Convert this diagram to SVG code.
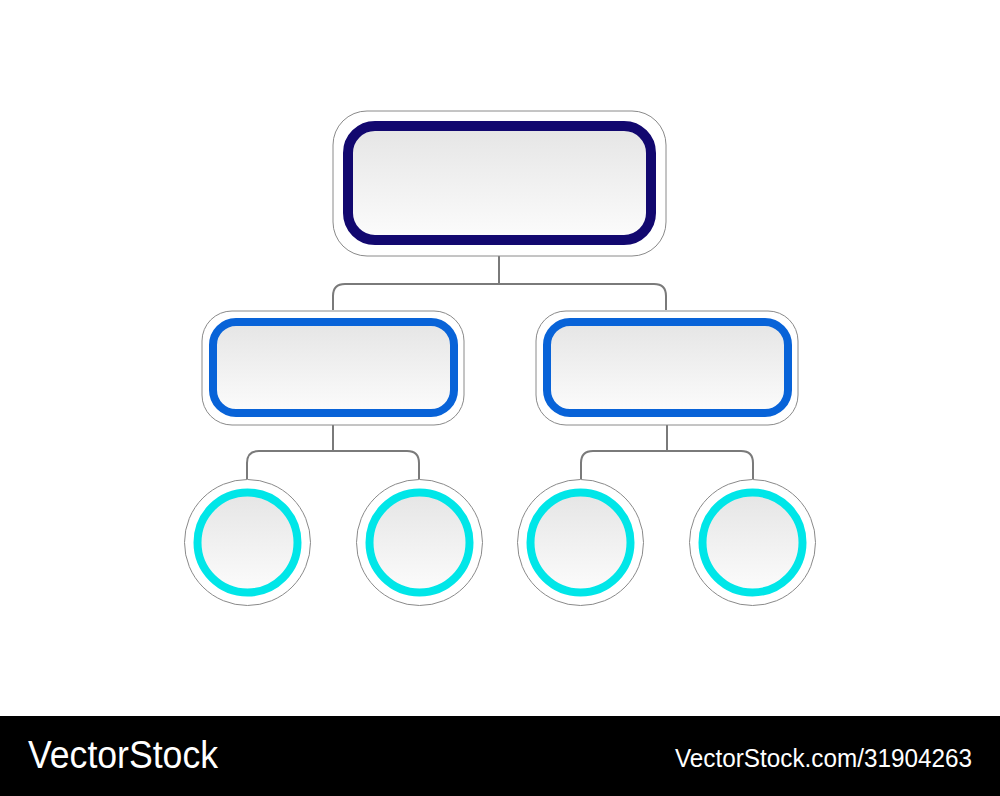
<svg xmlns="http://www.w3.org/2000/svg" width="1000" height="796" viewBox="0 0 1000 796">
<defs>
<linearGradient id="g" x1="0" y1="0" x2="0" y2="1">
<stop offset="0" stop-color="#e5e5e5"/>
<stop offset="1" stop-color="#fcfcfc"/>
</linearGradient>
<style>
.outer{fill:#fff;stroke:#8a8a8a;stroke-width:1}
.inner{fill:url(#g)}
.l1{stroke:#12086f;stroke-width:10}
.l2{stroke:#0863d8;stroke-width:8}
.l3{stroke:#00e6e8;stroke-width:8}
.conn{fill:none;stroke:#7a7a7a;stroke-width:2}
.wm{font-family:"Liberation Sans",Arial,sans-serif;fill:#fff}
</style>
</defs>
<rect width="1000" height="796" fill="#fff"/>
<g id="connectors">
<path class="conn" d="M499 256 V284 M333 310 V296 Q333 284 345 284 H654 Q666 284 666 296 V310"/>
<path class="conn" d="M333 425 V451 M247 479 V463 Q247 451 259 451 H407 Q419 451 419 463 V479"/>
<path class="conn" d="M667 425 V451 M581 479 V463 Q581 451 593 451 H741 Q753 451 753 463 V479"/>
</g>
<g id="top">
<rect class="outer" x="333" y="111" width="333" height="145" rx="34"/>
<rect class="inner l1" x="348" y="126" width="303" height="114" rx="27"/>
</g>
<g id="midLeft">
<rect class="outer" x="202" y="311" width="262" height="114" rx="30"/>
<rect class="inner l2" x="213" y="322" width="241" height="91" rx="23"/>
</g>
<g id="midRight">
<rect class="outer" x="536" y="311" width="262" height="114" rx="30"/>
<rect class="inner l2" x="547" y="322" width="241" height="91" rx="23"/>
</g>
<g id="c1">
<circle class="outer" cx="247.5" cy="542.5" r="63"/>
<circle class="inner l3" cx="247.5" cy="542.5" r="50"/>
</g>
<g id="c2">
<circle class="outer" cx="419.5" cy="542.5" r="63"/>
<circle class="inner l3" cx="419.5" cy="542.5" r="50"/>
</g>
<g id="c3">
<circle class="outer" cx="580.5" cy="542.5" r="63"/>
<circle class="inner l3" cx="580.5" cy="542.5" r="50"/>
</g>
<g id="c4">
<circle class="outer" cx="752.5" cy="542.5" r="63"/>
<circle class="inner l3" cx="752.5" cy="542.5" r="50"/>
</g>
<g id="footer">
<rect x="0" y="716" width="1000" height="80" fill="#000"/>
<text class="wm" x="28" y="768" font-size="38" textLength="190" lengthAdjust="spacingAndGlyphs">VectorStock</text>
<text class="wm" x="675" y="767" font-size="25" textLength="297" lengthAdjust="spacingAndGlyphs">VectorStock.com/31904263</text>
</g>
</svg>
